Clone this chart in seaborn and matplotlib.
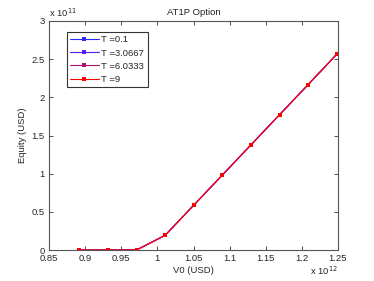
import matplotlib
matplotlib.use('Agg')
import matplotlib.pyplot as plt
import seaborn as sns
import pandas as pd

sns.set_style('ticks')
plt.rcParams['font.family'] = ['Liberation Sans', 'DejaVu Sans']

# V0 in units of 1e12 USD, equity in units of 1e11 USD
v0 = [0.892, 0.9316, 0.9712, 1.0108, 1.0504, 1.09, 1.1296, 1.1692, 1.2088, 1.2484]
equity = [0, 0, 0, 0.193, 0.588, 0.983, 1.378, 1.773, 2.168, 2.566]
maturities = ['0.1', '3.0667', '6.0333', '9']
colors = ['#2a2aff', '#5a1cff', '#b0106e', '#ff0000']

rows = []
for t in maturities:
    for x, y in zip(v0, equity):
        rows.append({'V0': x, 'Equity': y, 'T': 'T =' + t})
df = pd.DataFrame(rows)

fig = plt.figure(figsize=(3.74, 2.81), dpi=100)
ax = fig.add_axes([49 / 374, 1 - 250 / 281, 289 / 374, 229 / 281])

sns.lineplot(data=df, x='V0', y='Equity', hue='T', palette=colors,
             marker='s', markersize=3.3, markeredgewidth=0, linewidth=0.8,
             ax=ax)

ax.set_xlim(0.85, 1.25)
ax.set_ylim(0, 3)
ax.set_xticks([0.85, 0.9, 0.95, 1, 1.05, 1.1, 1.15, 1.2, 1.25])
ax.set_xticklabels(['0.85', '0.9', '0.95', '1', '1.05', '1.1', '1.15', '1.2', '1.25'])
ax.set_yticks([0, 0.5, 1, 1.5, 2, 2.5, 3])
ax.set_yticklabels(['0', '0.5', '1', '1.5', '2', '2.5', '3'])
ax.tick_params(direction='in', length=3, labelsize=6.8, top=True, right=True,
               width=0.6, color='#333333', pad=3)
for s in ax.spines.values():
    s.set_linewidth(0.8)
    s.set_color('#555555')

ax.set_xlabel('V0 (USD)', fontsize=6.8, labelpad=2)
ax.set_ylabel('Equity (USD)', fontsize=6.8, labelpad=3)
ax.set_title('AT1P Option', fontsize=6.8, pad=4)
ax.text(0, 1.008, r'x 10$^{11}$', transform=ax.transAxes, fontsize=6.8,
        ha='left', va='bottom')
ax.text(1, -0.065, r'x 10$^{12}$', transform=ax.transAxes, fontsize=6.8,
        ha='right', va='top')

leg = ax.legend(loc='upper left', bbox_to_anchor=(0.062, 0.952), fontsize=6.8,
                frameon=True, fancybox=False, edgecolor='black',
                borderaxespad=0, borderpad=0.35, labelspacing=0.45,
                handlelength=3.0, handletextpad=0.3)
leg.get_frame().set_linewidth(0.8)

fig.savefig('out.png', dpi=100)
